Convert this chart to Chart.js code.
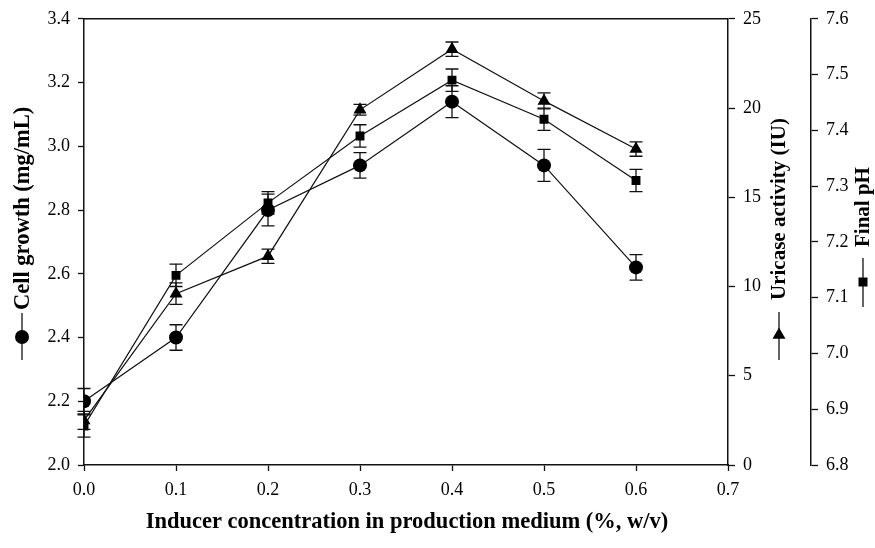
<!DOCTYPE html>
<html>
<head>
<meta charset="utf-8">
<script src="https://cdn.jsdelivr.net/npm/chart.js@4"></script>
<style>
html,body{margin:0;padding:0;background:#fff;}
canvas{display:block;}
</style>
</head>
<body>
<canvas id="c" width="875" height="548"></canvas>
<script>
// ---- data ----
const concentrations = [0.0, 0.1, 0.2, 0.3, 0.4, 0.5, 0.6];
const cellGrowth     = [2.20, 2.40, 2.80, 2.94, 3.14, 2.94, 2.62];
const cellGrowthErr  = [0.04, 0.04, 0.05, 0.04, 0.05, 0.05, 0.04];
const uricase        = [2.5, 9.6, 11.7, 19.9, 23.3, 20.4, 17.7];
const uricaseErr     = [0.5, 0.6, 0.4, 0.3, 0.4, 0.45, 0.4];
const finalPH        = [6.87, 7.14, 7.27, 7.39, 7.49, 7.42, 7.31];
const finalPHErr     = [0.02, 0.02, 0.02, 0.02, 0.02, 0.02, 0.02];

const xTitle = 'Inducer concentration in production medium (%, w/v)';
const yTitleCell = 'Cell growth (mg/mL)';
const yTitleUric = 'Uricase activity (IU)';
const yTitlePH = 'Final pH';

const FONT = "'Liberation Serif','Times New Roman',serif";
const TITLE_FONT = 'bold 22.5px ' + FONT;
const RIGHT_TITLE_FONT = 'bold 21px ' + FONT;
const INK = '#111';

function pts(ys){ return concentrations.map((x,i)=>({x:x, y:ys[i]})); }

const errorSets = [cellGrowthErr, uricaseErr, finalPHErr];

const errorBars = {
  id:'errorBars',
  beforeDatasetsDraw(chart){
    const ctx = chart.ctx;
    ctx.save();
    ctx.strokeStyle = INK;
    ctx.lineWidth = 1.3;
    chart.data.datasets.forEach((ds, di) => {
      const ys = chart.scales[ds.yAxisID];
      const xs = chart.scales.x;
      const errs = errorSets[di];
      ds.data.forEach((p, i) => {
        const px = xs.getPixelForValue(p.x);
        const y1 = ys.getPixelForValue(p.y + errs[i]);
        const y2 = ys.getPixelForValue(p.y - errs[i]);
        ctx.beginPath();
        ctx.moveTo(px, y1); ctx.lineTo(px, y2);
        ctx.moveTo(px-6.5, y1); ctx.lineTo(px+6.5, y1);
        ctx.moveTo(px-6.5, y2); ctx.lineTo(px+6.5, y2);
        ctx.stroke();
      });
    });
    ctx.restore();
  }
};

function drawMarker(ctx, style, x, y){
  ctx.beginPath();
  if (style === 'circle') {
    ctx.arc(x, y, 7, 0, Math.PI*2);
  } else if (style === 'triangle') {
    const r = 7.5;
    ctx.moveTo(x, y - r);
    ctx.lineTo(x + r*0.866, y + r/2);
    ctx.lineTo(x - r*0.866, y + r/2);
    ctx.closePath();
  } else {
    ctx.rect(x-4.5, y-4.5, 9, 9);
  }
  ctx.fill();
}

function vTitle(ctx, text, font, x, textBottom, lineTop, lineBottom, markerY, style){
  ctx.save();
  ctx.strokeStyle = INK; ctx.fillStyle = '#000'; ctx.lineWidth = 1.3;
  ctx.beginPath(); ctx.moveTo(x, lineTop); ctx.lineTo(x, lineBottom); ctx.stroke();
  drawMarker(ctx, style, x, markerY);
  ctx.translate(x, textBottom);
  ctx.rotate(-Math.PI/2);
  ctx.font = font;
  ctx.textAlign = 'left';
  ctx.textBaseline = 'middle';
  ctx.fillText(text, 0, 1);
  ctx.restore();
}

const decorations = {
  id:'decorations',
  afterDraw(chart){
    const ctx = chart.ctx;
    const a = chart.chartArea;
    ctx.save();
    // top frame line
    ctx.strokeStyle = INK; ctx.lineWidth = 1.5;
    ctx.beginPath(); ctx.moveTo(a.left, a.top); ctx.lineTo(a.right, a.top); ctx.stroke();
    // x title
    ctx.fillStyle = '#000';
    ctx.font = TITLE_FONT;
    ctx.textAlign = 'center'; ctx.textBaseline = 'middle';
    ctx.fillText(xTitle, (a.left + a.right)/2 + 1, 522);
    ctx.restore();
    vTitle(ctx, yTitleCell, TITLE_FONT, 22, 310, 313, 360, 337, 'circle');
    vTitle(ctx, yTitleUric, RIGHT_TITLE_FONT, 779, 300, 312, 360, 335, 'triangle');
    vTitle(ctx, yTitlePH, RIGHT_TITLE_FONT, 863, 247, 258, 307, 282, 'rect');
  }
};

function ds(label, ys, axis, style, radius){
  return {
    label, data: pts(ys), yAxisID: axis,
    borderColor: INK, borderWidth: 1.2,
    pointStyle: style, pointRadius: radius, pointHoverRadius: radius,
    pointBackgroundColor: '#000', pointBorderColor: '#000', pointBorderWidth: 0,
    tension: 0, fill: false
  };
}

const tickFont = {family: FONT, size: 18};
function axisCommon(extra){
  return Object.assign({
    border: {display: true, color: INK, width: 1.5},
    grid: {drawOnChartArea: false, drawTicks: true, tickLength: 7, tickColor: INK, tickWidth: 1.3},
  }, extra);
}

new Chart(document.getElementById('c'), {
  type: 'line',
  data: {
    datasets: [
      ds('Cell growth', cellGrowth, 'y', 'circle', 7),
      ds('Uricase activity', uricase, 'y1', 'triangle', 7.5),
      ds('Final pH', finalPH, 'y2', 'rect', 6.3)
    ]
  },
  plugins: [errorBars, decorations],
  options: {
    responsive: false,
    animation: false,
    devicePixelRatio: 1,
    layout: {padding: {top: 15, left: 0, right: 0, bottom: 0}},
    plugins: {legend: {display: false}, tooltip: {enabled: false}},
    scales: {
      x: axisCommon({
        type: 'linear', min: 0, max: 0.7,
        grid: {drawOnChartArea: false, tickLength: 6, tickColor: INK, tickWidth: 1.3},
        ticks: {stepSize: 0.1, font: tickFont, color: '#000', padding: 8,
                callback: v => Number(v).toFixed(1), maxRotation: 0},
        afterFit: s => { s.height = 83; }
      }),
      y: axisCommon({
        position: 'left', min: 2.0, max: 3.4,
        grid: {drawOnChartArea: false, tickLength: 6, tickColor: INK, tickWidth: 1.3},
        ticks: {stepSize: 0.2, font: tickFont, color: '#000', padding: 8,
                callback: v => Number(v).toFixed(1)},
        afterFit: s => { s.width = 84; }
      }),
      y1: axisCommon({
        position: 'right', min: 0, max: 25, weight: 0,
        ticks: {stepSize: 5, font: tickFont, color: '#000', padding: 8},
        afterFit: s => { s.width = 83; }
      }),
      y2: axisCommon({
        position: 'right', min: 6.8, max: 7.6, weight: 1,
        ticks: {stepSize: 0.1, font: tickFont, color: '#000', padding: 8,
                callback: v => Number(v).toFixed(1)},
        afterFit: s => { s.width = 64; }
      })
    }
  }
});
</script>
</body>
</html>
